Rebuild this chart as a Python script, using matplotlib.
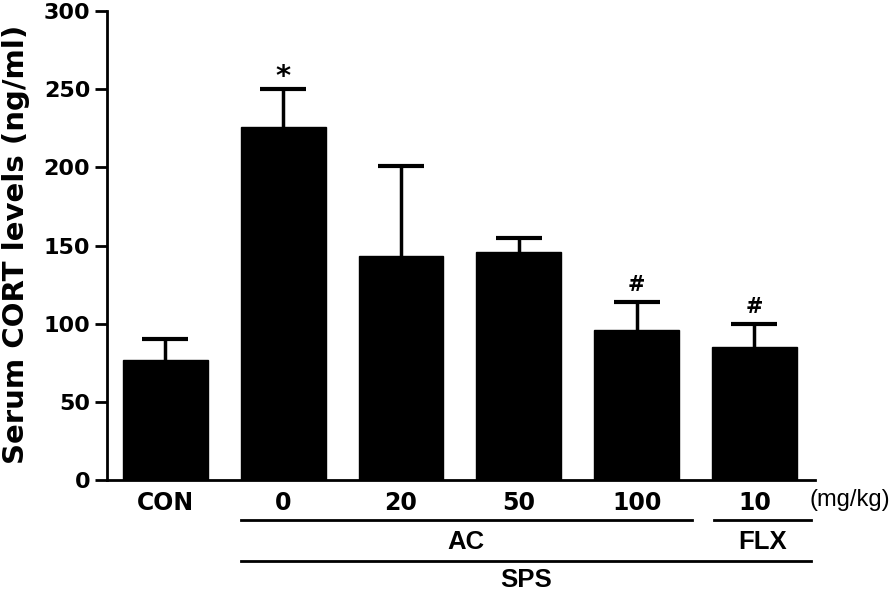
import numpy as np
import matplotlib
matplotlib.use('Agg')
import matplotlib.pyplot as plt
import matplotlib.transforms as mtransforms

# values
groups = ['CON', '0', '20', '50', '100', '10']
means = [77, 226, 143, 146, 96, 85]
sems = [13, 24, 58, 9, 18, 15]
marks = ['', '*', '', '', '#', '#']

plt.rcParams['font.family'] = 'DejaVu Sans'

fig = plt.figure(figsize=(8.96, 5.94), dpi=100)
ax = fig.add_axes([0.1194, 0.1919, 0.790, 0.7896])

x = np.arange(len(groups))
width = 0.72
ax.bar(x, means, width=width, color='black', edgecolor='black', zorder=2)
eb = ax.errorbar(x, means, yerr=[np.zeros(len(sems)), sems], fmt='none', ecolor='black',
                 elinewidth=2.5, capsize=16.5, capthick=3, zorder=1)
# only the upper cap
eb[1][0].set_visible(False)

# significance marks above the caps
for xi, m, s, t in zip(x, means, sems, marks):
    if t == '*':
        ax.annotate(t, (xi, m + s), xytext=(0, 9), textcoords='offset points',
                    ha='center', va='center', fontsize=21, fontweight='bold')
    elif t:
        ax.annotate(t, (xi, m + s), xytext=(0, 12), textcoords='offset points',
                    ha='center', va='center', fontsize=15, fontweight='bold')

ax.set_xlim(-0.496, 5.513)
ax.set_ylim(0, 300)
ax.set_yticks([0, 50, 100, 150, 200, 250, 300])
ax.set_xticks(x)
ax.set_xticklabels(groups, fontsize=17, fontweight='bold')
for lab in ax.get_yticklabels():
    lab.set_fontsize(16)
    lab.set_fontweight('bold')
ax.tick_params(axis='x', length=0, pad=8)
ax.tick_params(axis='y', length=9, width=2, pad=3)

for s in ['top', 'right']:
    ax.spines[s].set_visible(False)
for s in ['left', 'bottom']:
    ax.spines[s].set_linewidth(2)

fig.text(16 / 896, 0.5 + (594 / 2 - 244) / 594, 'Serum CORT levels (ng/ml)', rotation=90,
         ha='center', va='center', fontsize=21, fontweight='bold')

# group brackets under the axis
trans = mtransforms.blended_transform_factory(ax.transData, ax.transAxes)
half = width / 2
ac_l, ac_r = x[1] - half, x[4] + half + 0.11
flx_l, flx_r = x[5] - half + 0.02, x[5] + half + 0.12
ax.plot([ac_l, ac_r], [-0.0853, -0.0853], color='black', lw=2, transform=trans, clip_on=False)
ax.plot([flx_l, flx_r], [-0.0853, -0.0853], color='black', lw=2, transform=trans, clip_on=False)
ax.plot([ac_l, flx_r], [-0.1727, -0.1727], color='black', lw=2, transform=trans, clip_on=False)
grp = dict(transform=trans, ha='center', va='center', fontsize=18.5, fontweight='bold',
           family='Liberation Sans')
ax.text((x[1] + x[4]) / 2 + 0.05, -0.132, 'AC', **grp)
ax.text(x[5] + 0.07, -0.132, 'FLX', **grp)
ax.text((ac_l + flx_r) / 2, -0.213, 'SPS', **grp)
ax.text(5.47, -0.043, '(mg/kg)', transform=trans, ha='left', va='center', fontsize=17,
        family='Liberation Sans')

fig.savefig('out.png', dpi=100)
